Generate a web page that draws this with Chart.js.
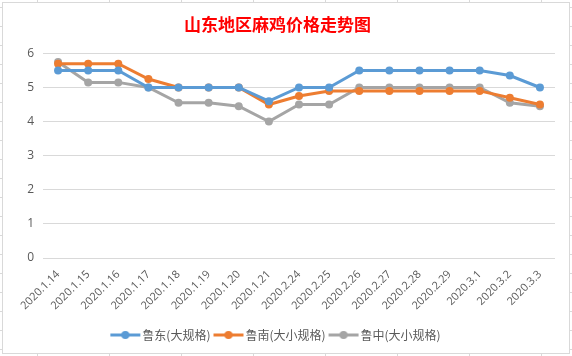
<!DOCTYPE html>
<html>
<head>
<meta charset="utf-8">
<script src="https://cdn.jsdelivr.net/npm/chart.js@4.4.1/dist/chart.umd.min.js"></script>
<style>
html,body{margin:0;padding:0;background:#fff;}
#wrap{width:572px;height:356px;position:relative;}
</style>
</head>
<body>
<div id="wrap"><canvas id="c" width="572" height="356"></canvas></div>
<script>
const categories = ['2020.1.14','2020.1.15','2020.1.16','2020.1.17','2020.1.18','2020.1.19','2020.1.20','2020.1.21','2020.2.24','2020.2.25','2020.2.26','2020.2.27','2020.2.28','2020.2.29','2020.3.1','2020.3.2','2020.3.3'];
const seriesNames = ['鲁东(大规格)','鲁南(大小规格)','鲁中(大小规格)'];
const ludong  = [5.5,5.5,5.5,5.0,5.0,5.0,5.0,4.6,5.0,5.0,5.5,5.5,5.5,5.5,5.5,5.35,5.0];
const lunan   = [5.7,5.7,5.7,5.25,5.0,5.0,5.0,4.5,4.75,4.9,4.9,4.9,4.9,4.9,4.9,4.7,4.5];
const luzhong = [5.75,5.15,5.15,5.0,4.55,4.55,4.45,4.0,4.5,4.5,5.0,5.0,5.0,5.0,5.0,4.55,4.45];
const yTicks = [0,1,2,3,4,5,6];
const titleText = '山东地区麻鸡价格走势图';
const colors = ['#5B9BD5','#ED7D31','#A5A5A5'];

function legendMarker(color){
  const cv = document.createElement('canvas');
  cv.width = 32; cv.height = 10;
  const g = cv.getContext('2d');
  g.strokeStyle = color; g.lineWidth = 3;
  g.beginPath(); g.moveTo(1,5); g.lineTo(31,5); g.stroke();
  g.fillStyle = color;
  g.beginPath(); g.arc(16,5,4,0,Math.PI*2); g.fill();
  return cv;
}
const markers = colors.map(legendMarker);

const framePlugin = {
  id:'frame',
  beforeDraw(chart){
    const ctx = chart.ctx;
    ctx.save();
    ctx.fillStyle = '#fff';
    ctx.fillRect(0,0,572,356);
    ctx.strokeStyle = '#d9d9d9';
    ctx.lineWidth = 1;
    ctx.beginPath();
    for (let x = 37; x < 572; x += 72){ ctx.moveTo(x+0.5,0); ctx.lineTo(x+0.5,2); ctx.moveTo(x+0.5,354); ctx.lineTo(x+0.5,356); }
    for (let y = 7; y < 356; y += 19){ ctx.moveTo(0,y+0.5); ctx.lineTo(2,y+0.5); ctx.moveTo(570,y+0.5); ctx.lineTo(572,y+0.5); }
    ctx.stroke();
    ctx.strokeRect(2.5,2.5,567,351);
    ctx.restore();
  }
};

new Chart(document.getElementById('c'), {
  type:'line',
  data:{
    labels: categories,
    datasets: [ludong, lunan, luzhong].map((d,i)=>({
      label: seriesNames[i],
      data: d,
      borderColor: colors[i],
      backgroundColor: colors[i],
      pointBackgroundColor: colors[i],
      pointBorderColor: colors[i],
      borderWidth: 3,
      pointRadius: 4,
      pointBorderWidth: 0,
      tension: 0,
      fill: false
    }))
  },
  options:{
    responsive:false,
    animation:false,
    devicePixelRatio:1,
    layout:{padding:{left:0,right:17,top:0,bottom:5}},
    plugins:{
      tooltip:{enabled:false},
      title:{
        display:true,
        text:titleText,
        color:'#FF0000',
        font:{family:'"Noto Sans CJK SC", sans-serif', size:17, weight:'bold'},
        padding:{top:14,bottom:19}
      },
      legend:{
        position:'bottom',
        labels:{
          color:'#595959',
          font:{family:'"Noto Sans CJK SC", sans-serif', size:12},
          usePointStyle:true,
          pointStyleWidth:22,
          padding:7,
          generateLabels(chart){
            return chart.data.datasets.map((ds,i)=>({
              text: ds.label,
              fillStyle: colors[i],
              strokeStyle: colors[i],
              lineWidth: 0,
              pointStyle: markers[i],
              hidden: false,
              datasetIndex: i,
              fontColor:'#595959'
            }));
          }
        }
      }
    },
    scales:{
      x:{
        offset:true,
        grid:{display:false},
        border:{display:false},
        ticks:{
          color:'#595959',
          font:{family:'"Open Sans", "DejaVu Sans", sans-serif', size:11},
          minRotation:45, maxRotation:45,
          autoSkip:false,
          padding:2
        },
        afterFit(s){ s.height = 64; }
      },
      y:{
        min:0, max:6,
        afterBuildTicks(s){ s.ticks = yTicks.map(v=>({value:v})); },
        grid:{color:'#d9d9d9', drawTicks:false, lineWidth:1},
        border:{display:false},
        ticks:{
          color:'#595959',
          font:{family:'"Open Sans", "DejaVu Sans", sans-serif', size:12},
          padding:9
        },
        afterFit(s){ s.width = 43; }
      }
    }
  },
  plugins:[framePlugin]
});
</script>
</body>
</html>
